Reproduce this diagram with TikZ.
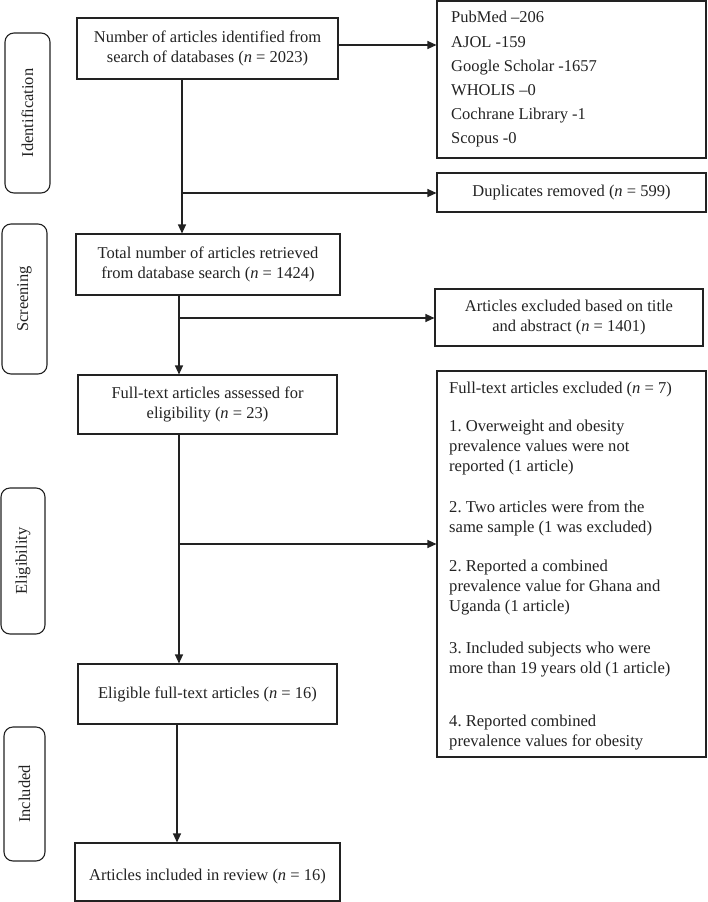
\documentclass[tikz,border=0pt]{standalone}
\usepackage{fontspec}
\setmainfont{Liberation Serif}
\usetikzlibrary{arrows.meta}
\definecolor{ink}{HTML}{222222}
\frenchspacing
\begin{document}
\frenchspacing
\begin{tikzpicture}[x=1pt,y=-1pt,
  every node/.style={font=\fontsize{16.5}{20}\selectfont, text=ink, inner sep=0pt},
  box/.style={draw=ink, line width=1.1pt, rectangle, align=center},
  side/.style={draw=ink, line width=1.1pt, rounded corners=9pt, rotate=90},
  arr/.style={draw=ink, line width=1.1pt, -{Triangle[length=9pt,width=8pt]}},
  ln/.style={draw=ink, line width=1.1pt},
  para/.style={anchor=west, align=left, font=\fontsize{16.6}{20}\selectfont\frenchspacing}]
\useasboundingbox (0,0) rectangle (707,902);

% side labels
\node[side, minimum width=160, minimum height=45] (sid) at (27.5,113) {Identification};
\node[side, minimum width=150, minimum height=45] (sscr) at (24.5,299) {Screening};
\node[side, minimum width=146, minimum height=44] (self) at (23,561) {Eligibility};
\node[side, minimum width=134, minimum height=41] (sinc) at (24.5,794) {Included};

% main boxes
\node[box, minimum width=261, minimum height=61] (b1) at (207.5,48.5)
  {Number of articles identified from\\search of databases (\textit{n} = 2023)};
\node[box, minimum width=264, minimum height=61] (b2) at (208,264.5)
  {Total number of articles retrieved\\from database search (\textit{n} = 1424)};
\node[box, minimum width=259, minimum height=59] (b3) at (207.5,404.5)
  {Full-text articles assessed for\\eligibility (\textit{n} = 23)};
\node[box, minimum width=259, minimum height=60] (b4) at (207.5,694)
  {Eligible full-text articles (\textit{n} = 16)};
\node[box, minimum width=265, minimum height=58] (b5) at (207.5,872) {};
\node (b5t) at (207.5,877) {Articles included in review (\textit{n} = 16)};

% right boxes
\node[box, minimum width=269, minimum height=157] (src) at (571.5,79.5) {};
\node[anchor=west, align=left, font=\fontsize{16.5}{24.2}\selectfont] (srct) at (451,79.5)
  {PubMed –206\\AJOL -159\\Google Scholar -1657\\WHOLIS –0\\Cochrane Library -1\\Scopus -0};
\node[box, minimum width=269, minimum height=39] (dup) at (571.5,192.5)
  {Duplicates removed (\textit{n} = 599)};
\node[box, minimum width=268, minimum height=57] (ext) at (569,317.5)
  {Articles excluded based on title\\and abstract (\textit{n} = 1401)};
\node[box, minimum width=269, minimum height=386] (exf) at (571.5,564) {};
\node[para] (p0) at (449,390) {Full-text articles excluded (\textit{n} = 7)};
\node[para] (p1) at (449,448) {1. Overweight and obesity\\prevalence values were not\\reported (1 article)};
\node[para] (p2) at (449,518) {2. Two articles were from the\\same sample (1 was excluded)};
\node[para] (p3) at (449,588) {2. Reported a combined\\prevalence value for Ghana and\\Uganda (1 article)};
\node[para] (p4) at (449,660) {3. Included subjects who were\\more than 19 years old (1 article)};
\node[para] (p5) at (449,732.5) {4. Reported combined\\prevalence values for obesity};

% connectors
\coordinate (a0) at (338,45);
\draw[arr] (a0) -- (a0 -| src.west);

\coordinate (j1) at (182,193);
\draw[ln] (b1.south -| j1) -- (j1);
\draw[arr] (j1) -- (b2.north -| j1);
\draw[arr] (j1) -- (j1 -| dup.west);

\coordinate (j2) at (179,318);
\draw[ln] (b2.south -| j2) -- (j2);
\draw[arr] (j2) -- (b3.north -| j2);
\draw[arr] (j2) -- (j2 -| ext.west);

\coordinate (j3) at (179,544);
\draw[ln] (b3.south -| j3) -- (j3);
\draw[arr] (j3) -- (b4.north -| j3);
\draw[arr] (j3) -- (j3 -| exf.west);

\coordinate (j4) at (177,780);
\draw[arr] (b4.south -| j4) -- (b5.north -| j4);
\end{tikzpicture}
\end{document}
